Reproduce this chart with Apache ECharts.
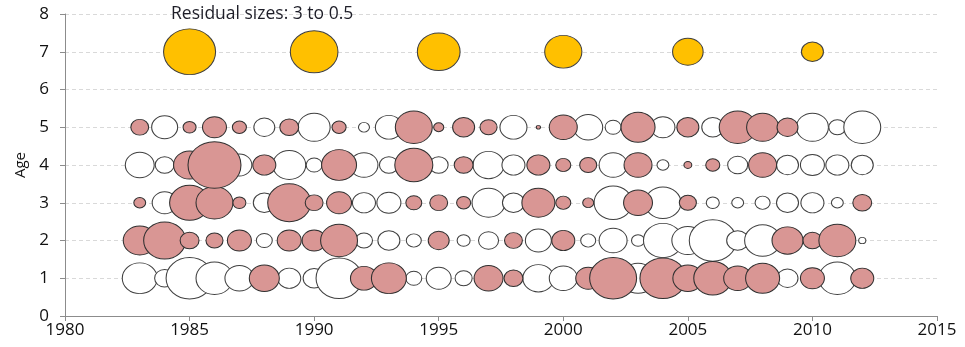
<!DOCTYPE html>
<html>
<head>
<meta charset="utf-8">
<script src="https://cdn.jsdelivr.net/npm/echarts@6/dist/echarts.min.js"></script>
<style>html,body{margin:0;padding:0;background:#fff}#c{width:965px;height:347px}</style>
</head>
<body>
<div id="c"></div>
<script>
const years = [1983,1984,1985,1986,1987,1988,1989,1990,1991,1992,1993,1994,1995,1996,1997,1998,1999,2000,2001,2002,2003,2004,2005,2006,2007,2008,2009,2010,2011,2012];
const ages = [1,2,3,4,5];
const resAge1 = [-1.32,-0.41,-2.43,-1.48,-0.89,0.96,-0.55,-0.50,-2.33,0.77,1.32,-0.25,-0.65,-0.29,0.89,0.36,-1.03,-0.83,0.65,2.43,-1.25,2.33,0.96,1.57,0.83,1.25,-0.45,0.60,-1.48,0.55];
const resAge2 = [1.17,1.93,0.36,0.29,0.60,-0.25,0.60,0.60,1.48,-0.29,-0.50,-0.22,0.45,-0.16,-0.41,0.32,-0.71,0.55,-0.22,-0.83,-0.16,-1.65,-1.10,-2.43,-0.50,-1.40,1.03,0.36,1.48,-0.04];
const resAge3 = [0.13,-0.65,1.74,1.48,0.16,-0.50,2.03,0.32,0.65,-0.55,-0.60,0.25,0.32,0.19,-1.17,-0.50,1.17,0.22,0.11,-1.57,0.89,-1.40,0.29,-0.16,-0.13,-0.22,-0.50,-0.55,-0.13,0.36];
const resAge4 = [-0.89,-0.36,1.10,3.11,-0.65,0.55,-1.17,-0.25,1.32,-0.83,-0.36,1.57,-0.36,0.36,-1.03,-0.55,0.55,0.22,0.29,-0.83,0.83,-0.13,0.05,0.19,-0.41,0.83,-0.50,-0.60,-0.55,-0.50];
const resAge5 = [0.32,-0.71,0.16,0.60,0.19,-0.45,0.36,-1.10,0.19,-0.11,-0.77,1.48,0.09,0.50,0.29,-0.77,0.01,0.83,-0.89,-0.25,1.25,-0.60,0.50,-0.50,1.48,1.10,0.45,-1.10,-0.29,-1.48];
const legendYears = [1985,1990,1995,2000,2005,2010];
const legendSizes = [3,2.5,2,1.5,1,0.5];
const legendAge = 7;
const legendText = 'Residual sizes: 3 to 0.5';
const xTicks = [1980,1985,1990,1995,2000,2005,2010,2015];

const resByAge = [resAge1,resAge2,resAge3,resAge4,resAge5];
const neg = [], pos = [];
ages.forEach((a,i)=>{
  resByAge[i].forEach((r,j)=>{
    (r<0?neg:pos).push([years[j],a,r]);
  });
});
const leg = legendYears.map((y,i)=>[y,legendAge,legendSizes[i]]);
function sz(v){ const d = 29.3*Math.sqrt(Math.abs(v[2]))+1.3; return [d, d*0.88]; }

const chart = echarts.init(document.getElementById('c'));
const font = "'Open Sans', 'Liberation Sans', sans-serif";
chart.setOption({
  animation:false,
  title:{text:legendText,left:166,top:0,textStyle:{fontFamily:font,fontSize:17.5,fontWeight:'normal',color:'#1e1e28'}},
  grid:{left:65,right:28,top:14,bottom:31},
  xAxis:{type:'value',min:1980,max:2015,interval:5,
    axisLine:{lineStyle:{color:'#8c8c8c',width:1}},
    axisTick:{show:true,length:5,lineStyle:{color:'#8c8c8c'}},
    axisLabel:{fontFamily:font,fontSize:17,color:'#111',margin:6,formatter:v=>xTicks.includes(v)?String(v):''},
    splitLine:{show:false}},
  yAxis:{type:'value',min:0,max:8,interval:1,name:'Age',nameLocation:'middle',nameGap:36,
    nameTextStyle:{fontFamily:font,fontSize:15,color:'#111'},
    axisLine:{show:true,lineStyle:{color:'#8c8c8c',width:1}},
    axisTick:{show:true,length:5,lineStyle:{color:'#8c8c8c'}},
    axisLabel:{fontFamily:font,fontSize:17,color:'#111',margin:16},
    splitLine:{show:true,lineStyle:{color:'#d9d9d9',type:[4,3],width:1}}},
  series:[
    {type:'scatter',data:neg,symbolSize:sz,itemStyle:{color:'#ffffff',borderColor:'#404040',borderWidth:1,opacity:1}},
    {type:'scatter',data:pos,symbolSize:sz,itemStyle:{color:'#d99694',borderColor:'#303030',borderWidth:1,opacity:1}},
    {type:'scatter',data:leg,symbolSize:sz,itemStyle:{color:'#ffc000',borderColor:'#404040',borderWidth:1,opacity:1}}
  ]
});
</script>
</body>
</html>
